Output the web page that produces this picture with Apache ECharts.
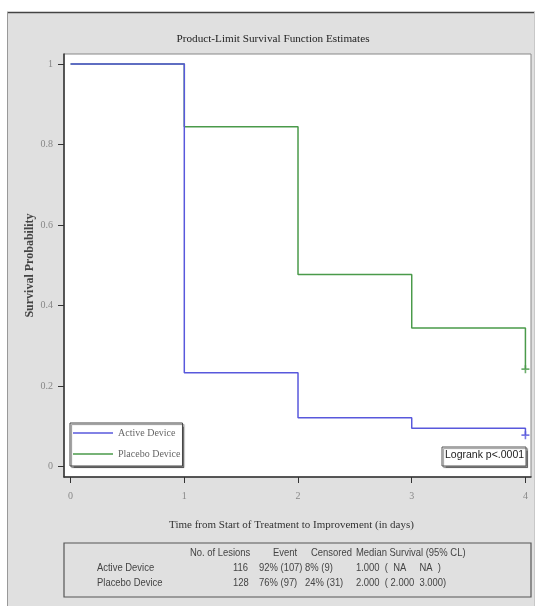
<!DOCTYPE html>
<html>
<head>
<meta charset="utf-8">
<script src="https://cdn.jsdelivr.net/npm/echarts@6/dist/echarts.min.js"></script>
<style>
html,body{margin:0;padding:0;background:#fff;}
#chart{width:535px;height:606px;}
</style>
</head>
<body>
<div id="chart"></div>
<script>
// ---- data ----
const days = [0, 1, 2, 3, 4];
const activeSurv = [1, 0.233, 0.121, 0.095, 0.078];
const placeboSurv = [1, 0.844, 0.477, 0.344, 0.242];
const censorDay = [4];
const activeCensor = [0.078];
const placeboCensor = [0.242];
const xTicks = [0, 1, 2, 3, 4];
const yTicks = [0, 0.2, 0.4, 0.6, 0.8, 1];
const seriesNames = ['Active Device', 'Placebo Device'];
const tableHeader = ['No. of Lesions', 'Event', 'Censored', 'Median Survival (95% CL)'];
const tableRowLabels = ['Active Device', 'Placebo Device'];
const lesions = ['116', '128'];
const events = ['92% (107)', '76% (97)'];
const censored = ['8% (9)', '24% (31)'];
const medians = ['1.000  (  NA     NA  )', '2.000  ( 2.000  3.000)'];
const logrankText = 'Logrank p<.0001';

// ---- layout / styles ----
const BLUE = '#5858dc';
const GREEN = '#4a9a4a';
const SERIF = '"Liberation Serif","Times New Roman",serif';
const SANS = '"Liberation Sans",Arial,sans-serif';

const chart = echarts.init(document.getElementById('chart'), null, {renderer: 'canvas'});

const toPairs = (xs, ys) => xs.map((x, i) => [x, ys[i]]);
const plusPath = 'path://M4,0 L6,0 L6,4 L10,4 L10,6 L6,6 L6,10 L4,10 L4,6 L0,6 L0,4 L4,4 Z';

// table graphic elements
const tableEls = [];
const headerX = [190, 273, 311, 356];
const colX = {label: 97, les: 233, ev: 259, cen: 305, med: 356};
const rowY = [568, 583];
const headerY = 553;
const tText = (txt, x, y) => ({
  type: 'text', x: x, y: y, scaleX: 0.82, z: 5,
  style: {text: txt, font: '11.5px ' + SANS, fill: '#444', verticalAlign: 'middle', align: 'left'}
});
tableEls.push({type: 'rect', shape: {x: 64, y: 543, width: 467, height: 54},
  style: {fill: 'transparent', stroke: '#555', lineWidth: 1.2}});
tableHeader.forEach((h, i) => tableEls.push(tText(h, headerX[i], headerY)));
tableRowLabels.forEach((lab, r) => {
  tableEls.push(tText(lab, colX.label, rowY[r]));
  tableEls.push(tText(lesions[r], colX.les, rowY[r]));
  tableEls.push(tText(events[r], colX.ev, rowY[r]));
  tableEls.push(tText(censored[r], colX.cen, rowY[r]));
  tableEls.push(tText(medians[r], colX.med, rowY[r]));
});

const option = {
  backgroundColor: '#e0e0e0',
  animation: false,
  title: {
    text: 'Product-Limit Survival Function Estimates',
    left: 268, top: 29, textAlign: 'center',
    textStyle: {fontFamily: SERIF, fontSize: 11.2, fontWeight: 'normal', color: '#222'}
  },
  grid: {
    left: 64, top: 54, right: 4, bottom: 129,
    show: true, backgroundColor: '#fff', borderColor: '#888', borderWidth: 1
  },
  legend: {
    data: seriesNames,
    orient: 'vertical',
    left: 70, top: 423,
    icon: 'rect', itemWidth: 40, itemHeight: 1.5, itemGap: 11,
    padding: [5, 2, 7, 3],
    backgroundColor: '#fff', borderColor: '#444', borderWidth: 1,
    shadowColor: 'rgba(0,0,0,0.45)', shadowOffsetX: 1.5, shadowOffsetY: 1.5, shadowBlur: 1,
    textStyle: {fontFamily: SERIF, fontSize: 10, color: '#666'}
  },
  xAxis: {
    type: 'value', min: -0.058, max: 4.049,
    name: 'Time from Start of Treatment to Improvement (in days)',
    nameLocation: 'middle', nameGap: 43,
    nameTextStyle: {fontFamily: SERIF, fontSize: 11, color: '#333', padding: [0, 12, 0, 0]},
    axisLine: {onZero: false, lineStyle: {color: '#333', width: 1.5}},
    axisTick: {show: true, length: 6, customValues: xTicks, lineStyle: {color: '#333'}},
    axisLabel: {customValues: xTicks, margin: 14, fontFamily: SERIF, fontSize: 10, color: '#888'},
    splitLine: {show: false}
  },
  yAxis: {
    type: 'value', min: -0.026, max: 1.025,
    name: 'Survival Probability',
    nameLocation: 'middle', nameGap: 28, nameMoveOverlap: false,
    nameTextStyle: {fontFamily: SERIF, fontSize: 12, fontWeight: 'bold', color: '#444'},
    axisLine: {show: true, onZero: false, lineStyle: {color: '#333', width: 1.5}},
    axisTick: {show: true, length: 6, customValues: yTicks, lineStyle: {color: '#333'}},
    axisLabel: {customValues: yTicks, margin: 11, fontFamily: SERIF, fontSize: 10, color: '#888',
      formatter: v => String(Math.round(v * 10) / 10)},
    splitLine: {show: false}
  },
  series: [
    {name: seriesNames[0], type: 'line', step: 'end', data: toPairs(days, activeSurv),
      showSymbol: false, lineStyle: {color: BLUE, width: 1.5}, itemStyle: {color: BLUE}, z: 3},
    {name: seriesNames[1], type: 'line', step: 'end', data: toPairs(days, placeboSurv),
      showSymbol: false, lineStyle: {color: GREEN, width: 1.5}, itemStyle: {color: GREEN}, z: 2},
    {name: 'Active censored', type: 'scatter', data: toPairs(censorDay, activeCensor),
      symbol: plusPath, symbolSize: 8, itemStyle: {color: BLUE}, z: 4},
    {name: 'Placebo censored', type: 'scatter', data: toPairs(censorDay, placeboCensor),
      symbol: plusPath, symbolSize: 8, itemStyle: {color: GREEN}, z: 4}
  ],
  graphic: [
    {type: 'rect', shape: {x: 0, y: 0, width: 535, height: 12}, style: {fill: '#fff'}, silent: true},
    {type: 'rect', shape: {x: 0, y: 0, width: 7, height: 606}, style: {fill: '#fff'}, silent: true},
    {type: 'line', shape: {x1: 7, y1: 12.5, x2: 535, y2: 12.5}, style: {stroke: '#444', lineWidth: 1.5}, silent: true},
    {type: 'line', shape: {x1: 7.5, y1: 12, x2: 7.5, y2: 606}, style: {stroke: '#999', lineWidth: 1}, silent: true},
    {type: 'line', shape: {x1: 534.5, y1: 12, x2: 534.5, y2: 606}, style: {stroke: '#c8c8c8', lineWidth: 1}, silent: true},
    {type: 'rect', shape: {x: 442, y: 447, width: 84, height: 19},
      style: {fill: '#fff', stroke: '#555', lineWidth: 1,
        shadowColor: 'rgba(0,0,0,0.4)', shadowOffsetX: 1.5, shadowOffsetY: 1.5, shadowBlur: 1}, z: 10},
    {type: 'text', left: 445, top: 450, z: 11,
      style: {text: logrankText, font: '10.5px ' + SANS, fill: '#222'}},
    ...tableEls
  ]
};
chart.setOption(option);
</script>
</body>
</html>
